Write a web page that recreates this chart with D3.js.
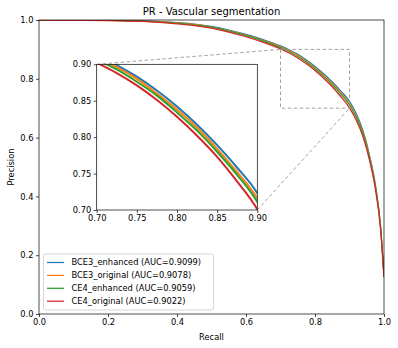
<!DOCTYPE html>
<html>
<head>
<meta charset="utf-8">
<script src="https://cdn.jsdelivr.net/npm/d3@7"></script>
<style>
  body { margin: 0; background: #fff; }
  svg { display: block; font-family: "DejaVu Sans", sans-serif; }
</style>
</head>
<body>
<div id="chart"></div>
<script>
const recall = [0, 0.1, 0.2, 0.3, 0.4, 0.45, 0.5, 0.55, 0.6, 0.65, 0.7, 0.725, 0.75, 0.775, 0.8, 0.825, 0.85, 0.875, 0.9, 0.92, 0.94, 0.96, 0.975, 0.99, 1.0];

const bce3Enhanced = [1.0, 1.0, 0.999, 0.997, 0.991, 0.986, 0.978, 0.966, 0.951, 0.933, 0.912, 0.899, 0.883, 0.864, 0.842, 0.817, 0.789, 0.758, 0.723, 0.680, 0.620, 0.530, 0.440, 0.300, 0.130];
const bce3Original = [1.0, 1.0, 0.999, 0.996, 0.990, 0.985, 0.976, 0.964, 0.949, 0.930, 0.909, 0.896, 0.880, 0.860, 0.838, 0.813, 0.784, 0.752, 0.716, 0.673, 0.614, 0.525, 0.436, 0.297, 0.128];
const ce4Enhanced = [1.0, 1.0, 0.999, 0.996, 0.989, 0.983, 0.975, 0.962, 0.947, 0.928, 0.906, 0.893, 0.876, 0.857, 0.834, 0.809, 0.780, 0.748, 0.711, 0.668, 0.609, 0.521, 0.432, 0.294, 0.127];
const ce4Original = [1.0, 0.999, 0.998, 0.995, 0.987, 0.981, 0.972, 0.959, 0.943, 0.924, 0.902, 0.888, 0.871, 0.851, 0.828, 0.802, 0.773, 0.739, 0.701, 0.658, 0.600, 0.513, 0.426, 0.290, 0.125];

const seriesNames = ['BCE3_enhanced (AUC=0.9099)', 'BCE3_original (AUC=0.9078)', 'CE4_enhanced (AUC=0.9059)', 'CE4_original (AUC=0.9022)'];
const seriesColors = ['#1f77b4', '#ff7f0e', '#2ca02c', '#d62728'];
const mainTicks = [0, 0.2, 0.4, 0.6, 0.8, 1.0];
const insetTicks = [0.70, 0.75, 0.80, 0.85, 0.90];
const zoomBox = { x0: 0.7, x1: 0.9, y0: 0.7, y1: 0.9 };

const series = [bce3Enhanced, bce3Original, ce4Enhanced, ce4Original].map((values, i) => ({
  name: seriesNames[i],
  color: seriesColors[i],
  points: recall.map((r, j) => [r, values[j]])
}));

const width = 398, height = 348;
const plot = { left: 39, right: 384, top: 20, bottom: 314 };
const inset = { left: 96.7, right: 257.3, top: 64.3, bottom: 210 };

const svg = d3.select('#chart').append('svg')
  .attr('width', width)
  .attr('height', height);

const x = d3.scaleLinear().domain([0, 1]).range([plot.left, plot.right]);
const y = d3.scaleLinear().domain([0, 1]).range([plot.bottom, plot.top]);
const xi = d3.scaleLinear().domain([zoomBox.x0, zoomBox.x1]).range([inset.left, inset.right]);
const yi = d3.scaleLinear().domain([zoomBox.y0, zoomBox.y1]).range([inset.bottom, inset.top]);

const defs = svg.append('defs');
defs.append('clipPath').attr('id', 'clip-main').append('rect')
  .attr('x', plot.left).attr('y', plot.top)
  .attr('width', plot.right - plot.left).attr('height', plot.bottom - plot.top);
defs.append('clipPath').attr('id', 'clip-inset').append('rect')
  .attr('x', inset.left).attr('y', inset.top)
  .attr('width', inset.right - inset.left).attr('height', inset.bottom - inset.top);

// main curves
const mainLine = d3.line().x((d) => x(d[0])).y((d) => y(d[1])).curve(d3.curveMonotoneX);
svg.append('g')
  .attr('clip-path', 'url(#clip-main)')
  .selectAll('path')
  .data(series)
  .join('path')
  .attr('fill', 'none')
  .attr('stroke', (d) => d.color)
  .attr('stroke-width', 1.25)
  .attr('d', (d) => mainLine(d.points));

// main axes
const axisStyle = (g) => {
  g.selectAll('.domain').remove();
  g.selectAll('line').attr('stroke', '#000').attr('stroke-width', 0.7);
  g.selectAll('text').attr('font-size', 8.3).attr('fill', '#000').attr('font-family', '"DejaVu Sans", sans-serif');
};

svg.append('g')
  .attr('transform', `translate(0,${plot.bottom})`)
  .call(d3.axisBottom(x).tickValues(mainTicks).tickFormat(d3.format('.1f')).tickSize(3).tickPadding(2.5))
  .call(axisStyle);
svg.append('g')
  .attr('transform', `translate(${plot.left},0)`)
  .call(d3.axisLeft(y).tickValues(mainTicks).tickFormat(d3.format('.1f')).tickSize(3).tickPadding(2.5))
  .call(axisStyle);

svg.append('rect')
  .attr('x', plot.left).attr('y', plot.top)
  .attr('width', plot.right - plot.left).attr('height', plot.bottom - plot.top)
  .attr('fill', 'none').attr('stroke', '#000').attr('stroke-width', 0.7);

svg.append('text')
  .attr('x', (plot.left + plot.right) / 2).attr('y', 15)
  .attr('text-anchor', 'middle').attr('font-size', 10)
  .text('PR - Vascular segmentation');
svg.append('text')
  .attr('x', (plot.left + plot.right) / 2).attr('y', 340)
  .attr('text-anchor', 'middle').attr('font-size', 8.3)
  .text('Recall');
svg.append('text')
  .attr('transform', `translate(14,${(plot.top + plot.bottom) / 2}) rotate(-90)`)
  .attr('text-anchor', 'middle').attr('font-size', 8.3)
  .text('Precision');

// zoom box and connectors
const dashed = (sel) => sel.attr('fill', 'none').attr('stroke', '#999').attr('stroke-width', 0.9).attr('stroke-dasharray', '3.5,2.5');
svg.append('rect')
  .attr('x', x(zoomBox.x0)).attr('y', y(zoomBox.y1))
  .attr('width', x(zoomBox.x1) - x(zoomBox.x0)).attr('height', y(zoomBox.y0) - y(zoomBox.y1))
  .call(dashed);
svg.append('line')
  .attr('x1', inset.left).attr('y1', inset.top)
  .attr('x2', x(zoomBox.x0)).attr('y2', y(zoomBox.y1))
  .call(dashed);
svg.append('line')
  .attr('x1', inset.right).attr('y1', inset.bottom)
  .attr('x2', x(zoomBox.x1)).attr('y2', y(zoomBox.y0))
  .call(dashed);

// inset
svg.append('rect')
  .attr('x', inset.left).attr('y', inset.top)
  .attr('width', inset.right - inset.left).attr('height', inset.bottom - inset.top)
  .attr('fill', '#fff');

const insetLine = d3.line().x((d) => xi(d[0])).y((d) => yi(d[1])).curve(d3.curveMonotoneX);
svg.append('g')
  .attr('clip-path', 'url(#clip-inset)')
  .selectAll('path')
  .data(series)
  .join('path')
  .attr('fill', 'none')
  .attr('stroke', (d) => d.color)
  .attr('stroke-width', 2)
  .attr('d', (d) => insetLine(d.points));

svg.append('g')
  .attr('transform', `translate(0,${inset.bottom})`)
  .call(d3.axisBottom(xi).tickValues(insetTicks).tickFormat(d3.format('.2f')).tickSize(3).tickPadding(2.5))
  .call(axisStyle);
svg.append('g')
  .attr('transform', `translate(${inset.left},0)`)
  .call(d3.axisLeft(yi).tickValues(insetTicks).tickFormat(d3.format('.2f')).tickSize(3).tickPadding(2.5))
  .call(axisStyle);
svg.append('rect')
  .attr('x', inset.left).attr('y', inset.top)
  .attr('width', inset.right - inset.left).attr('height', inset.bottom - inset.top)
  .attr('fill', 'none').attr('stroke', '#000').attr('stroke-width', 0.7);

// legend
const legend = svg.append('g').attr('transform', 'translate(43.5,254)');
legend.append('rect')
  .attr('width', 170).attr('height', 56).attr('rx', 2)
  .attr('fill', '#fff').attr('fill-opacity', 0.8)
  .attr('stroke', '#ccc').attr('stroke-width', 0.8);
const rows = legend.selectAll('g.row')
  .data(series)
  .join('g')
  .attr('class', 'row')
  .attr('transform', (d, i) => `translate(0,${8.5 + i * 12.9})`);
rows.append('line')
  .attr('x1', 3.5).attr('x2', 20.5)
  .attr('stroke', (d) => d.color).attr('stroke-width', 1.25);
rows.append('text')
  .attr('x', 28).attr('dy', '0.35em')
  .attr('font-size', 8.3)
  .text((d) => d.name);
</script>
</body>
</html>
